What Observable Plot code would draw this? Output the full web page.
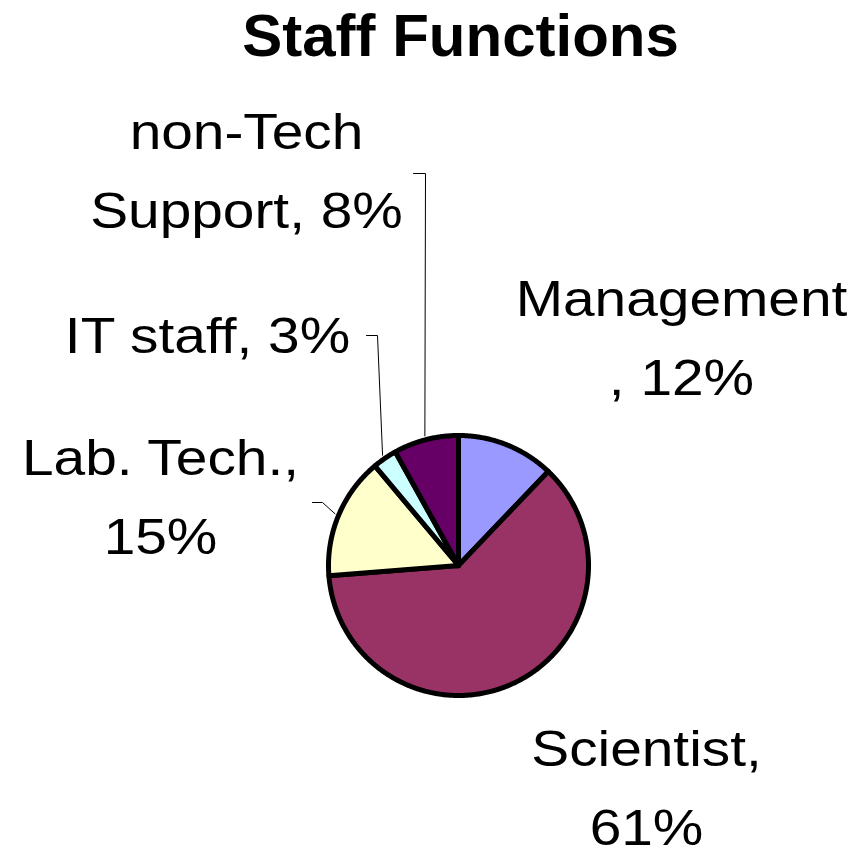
<!DOCTYPE html>
<html>
<head>
<meta charset="utf-8">
<script src="https://cdn.jsdelivr.net/npm/d3@7"></script>
<script src="https://cdn.jsdelivr.net/npm/@observablehq/plot@0.6"></script>
<style>
  html, body { margin: 0; padding: 0; background: #fff; }
  #chart svg { display: block; }
</style>
</head>
<body>
<div id="chart"></div>
<script>
// ---- Data ----
const categories = ["Management", "Scientist", "Lab. Tech.", "IT staff", "non-Tech Support"];
const values = [12, 61, 15, 3, 8];
const labelTexts = ["Management\n, 12%", "Scientist,\n61%", "Lab. Tech.,\n15%", "IT staff, 3%", "non-Tech\nSupport, 8%"];
const sliceColors = ["#9999FF", "#993366", "#FFFFCC", "#CCFFFF", "#660066"];
const titleText = "Staff Functions";

// ---- Layout (pixels) ----
const W = 854, H = 852;
const pie = {cx: 458, cy: 565, r: 130};
// label anchor = baseline of last line, centered
const labelLayout = [
  {x: 681, y: 394, leader: null},
  {x: 646, y: 844, leader: null},
  {x: 160, y: 553, leader: {x0: 312, y0: 502, x1: 322}},
  {x: 207, y: 352, leader: {x0: 366, y0: 335, x1: 377}},
  {x: 246, y: 227, leader: {x0: 413, y0: 173, x1: 425}}
];

// ---- Build slice polygons from values ----
const total = d3.sum(values);
const slices = [];
const mids = [];
let acc = 0;
values.forEach((v, i) => {
  const a0 = acc / total * 2 * Math.PI;
  acc += v;
  const a1 = acc / total * 2 * Math.PI;
  mids.push((a0 + a1) / 2);
  slices.push({category: categories[i], x: pie.cx, y: pie.cy});
  const steps = Math.max(2, Math.ceil((a1 - a0) / (Math.PI / 360)));
  for (let k = 0; k <= steps; k++) {
    const a = a0 + (a1 - a0) * k / steps;
    slices.push({category: categories[i], x: pie.cx + pie.r * Math.sin(a), y: pie.cy - pie.r * Math.cos(a)});
  }
  slices.push({category: categories[i], x: pie.cx, y: pie.cy});
});

const leaders = [];
labelLayout.forEach((l, i) => {
  if (!l.leader) return;
  const a = mids[i];
  const rr = pie.r * 1.03;
  leaders.push({k: i, x: l.leader.x0, y: l.leader.y0});
  leaders.push({k: i, x: l.leader.x1, y: l.leader.y0});
  leaders.push({k: i, x: pie.cx + rr * Math.sin(a), y: pie.cy - rr * Math.cos(a)});
});

const labels = labelTexts.map((t, i) => ({text: t, x: labelLayout[i].x, y: labelLayout[i].y}));

const chart = Plot.plot({
  width: W,
  height: H,
  margin: 0,
  x: {domain: [0, W], range: [0, W], axis: null},
  y: {domain: [0, H], range: [0, H], axis: null},
  color: {domain: categories, range: sliceColors},
  style: {background: "#fff", fontFamily: "'Liberation Sans', Arial, sans-serif"},
  marks: [
    Plot.line(leaders, {x: "x", y: "y", z: "k", stroke: "#000", strokeWidth: 1}),
    Plot.line(slices, {x: "x", y: "y", z: "category", fill: "category", stroke: "#000", strokeWidth: 5, strokeLinejoin: "round", curve: "linear"}),
    Plot.text(labels, {x: "x", y: "y", text: "text", fontSize: 49, lineHeight: 1.61, lineAnchor: "bottom", textAnchor: "middle", fill: "#000", className: "pie-label"}),
    Plot.text([titleText], {x: () => 460, y: () => 55, text: d => d, fontSize: 60, fontWeight: "bold", lineAnchor: "bottom", textAnchor: "middle", fill: "#000"})
  ]
});

// Horizontally stretch the slice labels to match the reference proportions
chart.querySelectorAll(".pie-label text").forEach(t => {
  const tr = t.getAttribute("transform");
  if (tr) t.setAttribute("transform", tr + " scale(1.16,1)");
});

document.getElementById("chart").appendChild(chart);
</script>
</body>
</html>
